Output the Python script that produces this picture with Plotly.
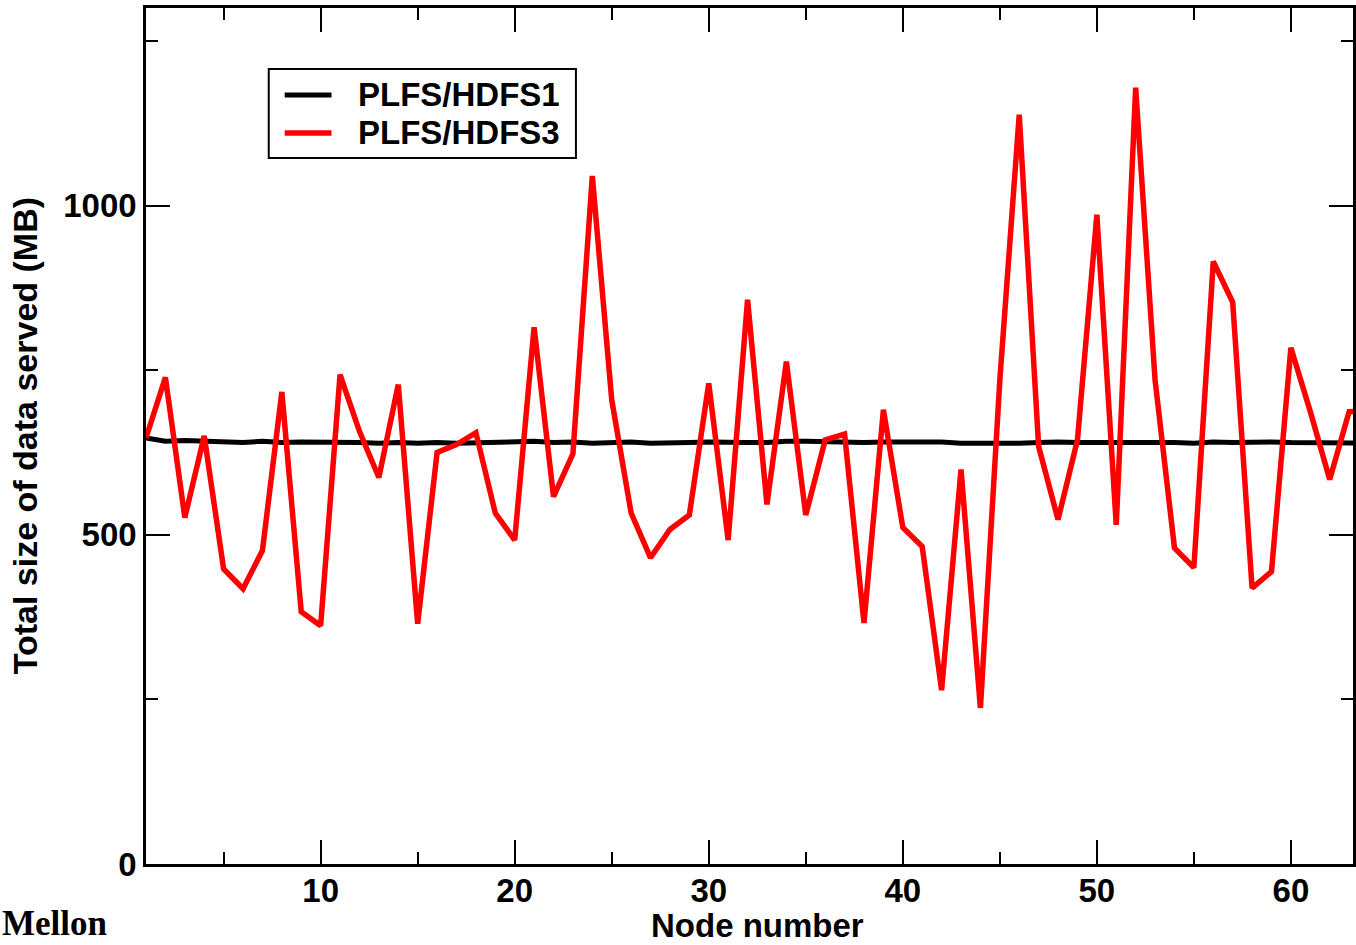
import plotly.graph_objects as go

nodes = list(range(1, 65))
hdfs1 = [647, 642, 643, 642, 641, 640, 642, 640, 641, 641,
         640, 640, 639, 640, 639, 640, 639, 640, 640, 641,
         642, 640, 641, 639, 640, 641, 639, 639, 640, 641,
         640, 640, 640, 642, 642, 641, 640, 640, 641, 641,
         640, 641, 639, 639, 638, 639, 640, 641, 640, 640,
         640, 641, 640, 640, 639, 641, 640, 641, 641, 640,
         640, 639, 639, 639]
hdfs3 = [647, 739, 526, 650, 448, 418, 476, 717, 383, 362,
         743, 657, 587, 728, 365, 625, 637, 655, 533, 492,
         815, 558, 623, 1045, 705, 533, 465, 508, 530, 730,
         492, 857, 546, 763, 530, 644, 653, 366, 690, 511,
         482, 264, 599, 237, 735, 1138, 634, 523, 644, 986,
         515, 1179, 735, 480, 450, 915, 853, 419, 444, 784,
         687, 584, 687, 688]

series_names = ["PLFS/HDFS1", "PLFS/HDFS3"]
series_colors = ["black", "#ff0000"]
x_ticks = [10, 20, 30, 40, 50, 60]
y_ticks = [0, 500, 1000]

FONT = "Liberation Sans"

fig = go.Figure()
fig.add_trace(go.Scatter(x=nodes, y=hdfs1, mode="lines", name=series_names[0],
                         line=dict(color=series_colors[0], width=5), showlegend=False))
fig.add_trace(go.Scatter(x=nodes, y=hdfs3, mode="lines", name=series_names[1],
                         line=dict(color=series_colors[1], width=5.5), showlegend=False))

axis_common = dict(showgrid=False, zeroline=False, showline=True, linecolor="black",
                   linewidth=2.5, mirror="allticks", ticks="inside", ticklen=24,
                   tickwidth=2, tickcolor="black",
                   tickfont=dict(family=FONT, size=33, color="black", weight="bold"))

fig.update_xaxes(range=[1, 63.2], tickvals=x_ticks, ticklabelstandoff=-4,
                 minor=dict(ticks="inside", tickvals=[5, 15, 25, 35, 45, 55],
                            ticklen=12, tickwidth=2, tickcolor="black"),
                 **axis_common)
fig.update_yaxes(range=[0, 1300], tickvals=y_ticks,
                 minor=dict(ticks="inside", tickvals=[250, 750, 1250],
                            ticklen=12, tickwidth=2, tickcolor="black"),
                 **axis_common)

# manual legend (paper coordinates)
shapes = [dict(type="rect", xref="paper", yref="paper", x0=0.1017, x1=0.3562,
               y0=0.8248, y1=0.9287, line=dict(color="black", width=2),
               fillcolor="white", layer="above")]
legend_y = [0.8984, 0.8540]
annotations = []
for name, col, w, ly in zip(series_names, series_colors, [5, 5.5], legend_y):
    shapes.append(dict(type="line", xref="paper", yref="paper", x0=0.1149, x1=0.1537,
                       y0=ly, y1=ly, line=dict(color=col, width=w), layer="above"))
    annotations.append(dict(text=name, xref="paper", yref="paper", x=0.1736, y=ly,
                            xanchor="left", yanchor="middle", showarrow=False,
                            font=dict(family=FONT, size=33, color="black", weight="bold")))

annotations += [
    dict(text="Node number", xref="paper", yref="paper", x=0.5066, y=-0.0935,
         xanchor="center", yanchor="bottom", showarrow=False, height=34,
         font=dict(family=FONT, size=33, color="black", weight="bold")),
    dict(text="Total size of data served (MB)", xref="paper", yref="paper",
         x=-0.1, y=0.5, xanchor="center", yanchor="middle", textangle=-90,
         showarrow=False,
         font=dict(family=FONT, size=34, color="black", weight="bold")),
    dict(text="Mellon", xref="paper", yref="paper", x=-0.1207, y=-0.0946,
         xanchor="left", yanchor="bottom", showarrow=False,
         font=dict(family="Liberation Serif", size=35, color="black", weight="bold")),
]

fig.update_layout(
    width=1356, height=945,
    margin=dict(l=146, r=0, t=8, b=81),
    paper_bgcolor="white", plot_bgcolor="white",
    showlegend=False,
    shapes=shapes,
    annotations=annotations,
)

fig.write_html("out.html")
